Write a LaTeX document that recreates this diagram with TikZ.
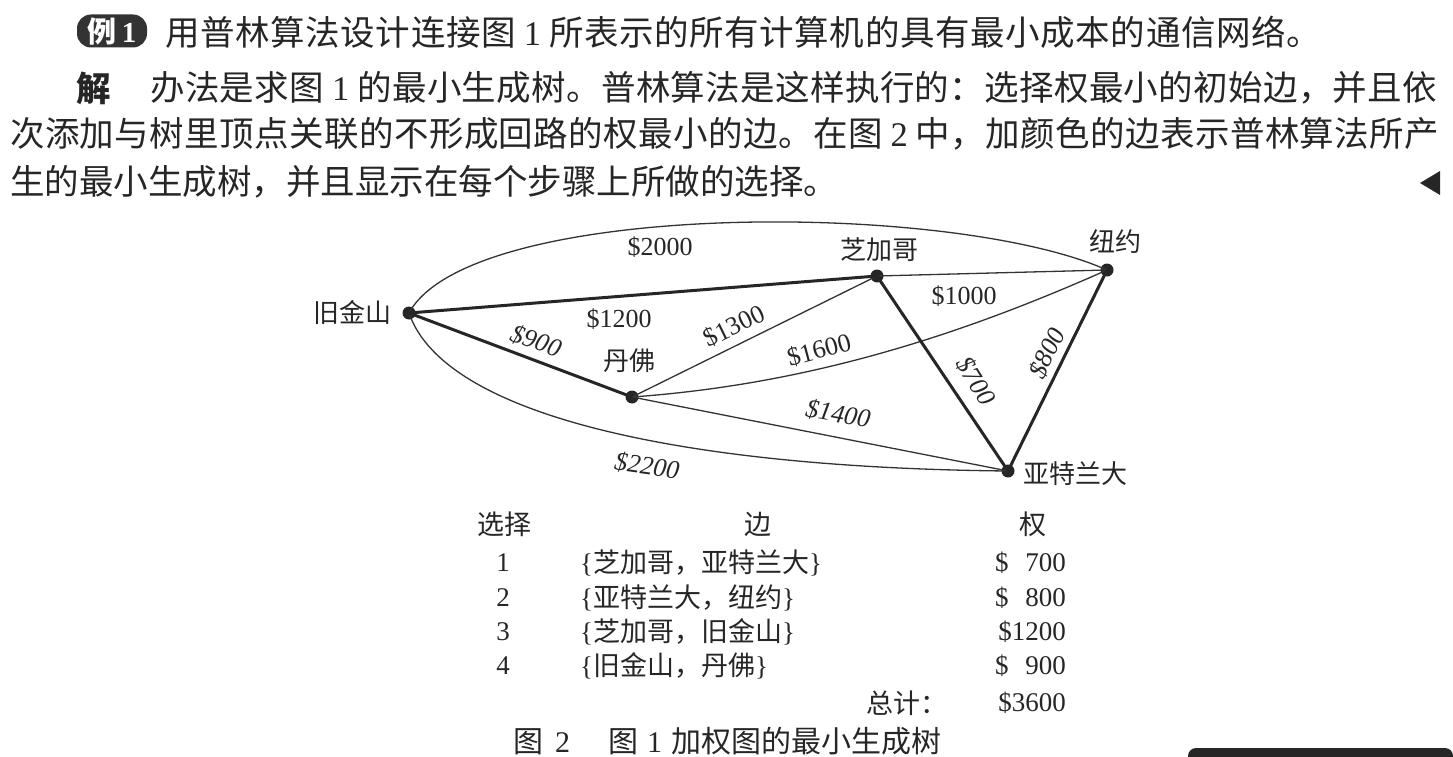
\documentclass[tikz,border=0pt]{standalone}
\usepackage{fontspec}
\setmainfont{Liberation Serif}
\newfontfamily\cjk{Noto Sans CJK SC}
\newfontfamily\cjkA{Noto Sans CJK SC}[LetterSpace=1.8]
\newfontfamily\cjkB{Noto Sans CJK SC}[LetterSpace=1.0]
\newfontfamily\cjkC{Noto Sans CJK SC}[LetterSpace=1.2]
\begin{document}
\begin{tikzpicture}[x=1pt,y=-1pt,
  dot/.style={circle,fill=black!85,inner sep=0pt,minimum size=13pt},
  thin/.style={line width=1.3pt,draw=black!80},
  thk/.style={line width=3pt,draw=black!85},
  city/.style={font=\cjk\fontsize{26}{30}\selectfont,inner sep=0pt,text=black!85},
  wt/.style={font=\fontsize{26}{30}\selectfont,inner sep=0pt,text=black!85},
  wti/.style={font=\itshape\fontsize{26}{30}\selectfont,inner sep=0pt,text=black!85},
  body/.style={font=\fontsize{34.5}{40}\selectfont,inner sep=0pt,anchor=west,text=black!85},
  tab/.style={font=\fontsize{27}{32}\selectfont,inner sep=0pt,text=black!85},
  tabc/.style={font=\cjk\fontsize{27}{32}\selectfont,inner sep=0pt,text=black!85}]
\useasboundingbox (0,0) rectangle (1453,757);
\fill[white] (0,0) rectangle (1453,757);

% ---- text ----
\node[fill=black!80,rounded corners=14pt,minimum width=70pt,minimum height=33pt,inner sep=0pt,
  font=\bfseries\fontsize{29}{32}\selectfont,text=white] (badge) at (112,31) {{\cjk 例}\hspace{5pt}1};
\node[body] (l1) at (165,32) {{\cjkA 用普林算法设计连接图}\hspace{8pt}1\hspace{8pt}{\cjkA 所表示的所有计算机的具有最小成本的通信网络。}};
\node[body,font=\cjk\bfseries\fontsize{34.5}{40}\selectfont] (jie) at (76,88) {解};
\node[body] (l2) at (150,88) {{\cjkB 办法是求图}\hspace{8pt}1\hspace{8pt}{\cjkB 的最小生成树。普林算法是这样执行的：选择权最小的初始边，并且依}};
\node[body] (l3) at (10,134) {{\cjkC 次添加与树里顶点关联的不形成回路的权最小的边。在图}\hspace{8pt}2\hspace{8pt}{\cjkC 中，加颜色的边表示普林算法所产}};
\node[body] (l4) at (10,182) {{\cjk 生的最小生成树，并且显示在每个步骤上所做的选择。}};
\fill[black!85] (1420,183) -- (1440,171) -- (1440,195) -- cycle;

% ---- graph ----
\node[dot] (sf) at (409,313) {};
\node[dot] (ch) at (877,276) {};
\node[dot] (ny) at (1107,270) {};
\node[dot] (de) at (632,397) {};
\node[dot] (at) at (1008,471) {};

\node[city] (sfl) at (352,313) {旧金山};
\node[city] (chl) at (879,250) {芝加哥};
\node[city] (nyl) at (1115,242) {纽约};
\node[city] (del) at (629,361) {丹佛};
\node[city] (atl) at (1075,474) {亚特兰大};

\draw[thin] (sf.center) .. controls (470,200) and (950,200) .. (ny.center);
\draw[thin] (sf.center) .. controls (445,418) and (690,468) .. (at.center);
\draw[thin] (de.center) .. controls (800,385) and (950,340) .. (ny.center);
\draw[thin] (de.center) -- (at.center);
\draw[thin] (de.center) -- (ch.center);
\draw[thin] (ch.center) -- (ny.center);
\draw[thk] (sf.center) -- (ch.center);
\draw[thk] (sf.center) -- (de.center);
\draw[thk] (ch.center) -- (at.center);
\draw[thk] (at.center) -- (ny.center);

\node[wt] (w2000) at (660,247) {\$2000};
\node[wt] (w1200) at (619,319) {\$1200};
\node[wti,rotate=-20] (w900) at (536,341) {\$900};
\node[wt,rotate=26] (w1300) at (734,326) {\$1300};
\node[wt] (w1000) at (964,296) {\$1000};
\node[wt,rotate=15] (w1600) at (819,350) {\$1600};
\node[wti,rotate=-58] (w700) at (976,381) {\$700};
\node[wti,rotate=64] (w800) at (1047,353) {\$800};
\node[wti,rotate=-10] (w1400) at (838,414) {\$1400};
\node[wti,rotate=-8] (w2200) at (647,466) {\$2200};

% ---- table ----
\node[tabc] (h1) at (504,524) {选择};
\node[tabc] (h2) at (758,524) {边};
\node[tabc] (h3) at (1033,524) {权};

\node[tab] (n1) at (503,563) {1};
\node[tab] (n2) at (503,598) {2};
\node[tab] (n3) at (503,632) {3};
\node[tab] (n4) at (503,666) {4};

\node[tab,anchor=west] (e1) at (580,563) {\{{\cjk 芝加哥，亚特兰大}\}};
\node[tab,anchor=west] (e2) at (580,598) {\{{\cjk 亚特兰大，纽约}\}};
\node[tab,anchor=west] (e3) at (580,632) {\{{\cjk 芝加哥，旧金山}\}};
\node[tab,anchor=west] (e4) at (580,666) {\{{\cjk 旧金山，丹佛}\}};

\node[tab,anchor=west] (d1) at (995,563) {\$};
\node[tab,anchor=east] (v1) at (1066,563) {700};
\node[tab,anchor=west] (d2) at (995,598) {\$};
\node[tab,anchor=east] (v2) at (1066,598) {800};
\node[tab,anchor=east] (v3) at (1066,632) {\$1200};
\node[tab,anchor=west] (d4) at (995,666) {\$};
\node[tab,anchor=east] (v4) at (1066,666) {900};
\node[tabc,anchor=east] (tot) at (948,703) {总计：};
\node[tab,anchor=east] (vt) at (1066,703) {\$3600};

\node[tab,anchor=west,font=\fontsize{30}{34}\selectfont] (cap) at (513,741) {{\cjk 图}\hspace{12pt}2\hspace{38pt}{\cjk 图}\hspace{9pt}1\hspace{9pt}{\cjk 加权图的最小生成树}};

% scan edge at bottom right
\fill[black!85,rounded corners=8pt] (1188,748) -- (1453,748) -- (1453,770) -- (1188,770) -- cycle;
\end{tikzpicture}
\end{document}
